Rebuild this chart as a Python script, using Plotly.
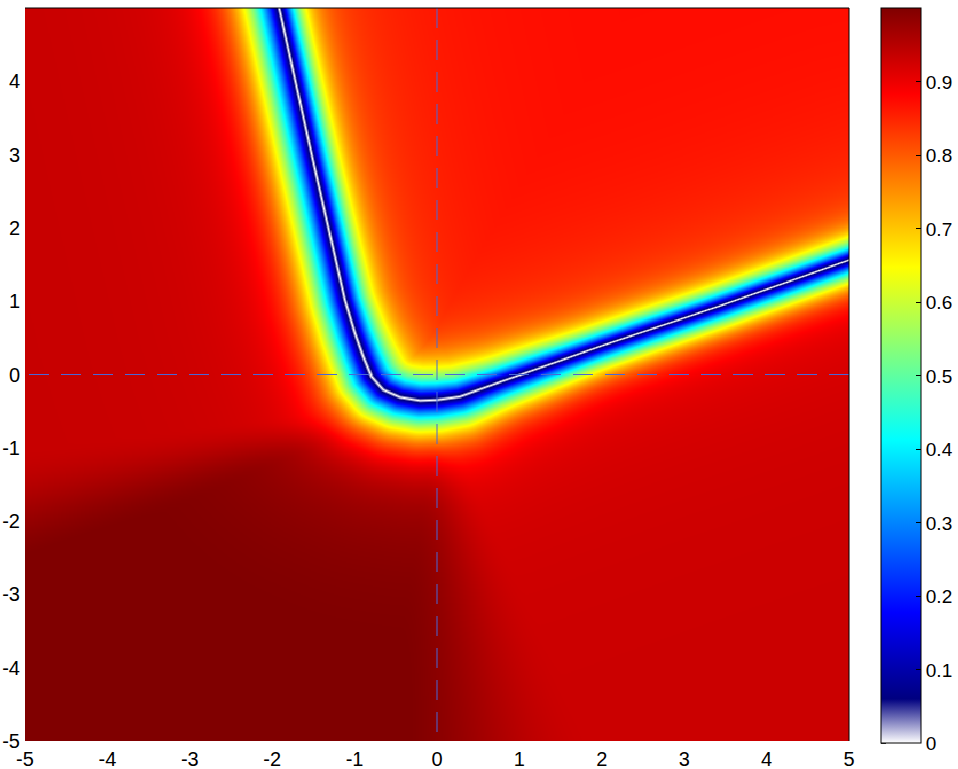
import numpy as np
import plotly.graph_objects as go

# Línea blanca (mínimo del campo)
curve_x = [-2.005, -1.915, -1.52, -1.117, -0.995, -0.894, -0.793, -0.651, -0.449,
           -0.206, 0.0, 0.279, 0.8, 2.0, 3.434, 5.0, 5.5]
curve_y = [5.45, 5.0, 3.0, 1.016, 0.562, 0.243, -0.03, -0.211, -0.311,
           -0.357, -0.348, -0.303, -0.09, 0.39, 0.934, 1.56, 1.755]

# Distancia desde la línea blanca hasta el borde amarillo (~0.65), lado exterior / interior
band_out = [0.42, 0.42, 0.42, 0.42, 0.42, 0.42, 0.43, 0.43, 0.43,
            0.43, 0.43, 0.41, 0.36, 0.31, 0.30, 0.30, 0.30]
band_in = [0.32, 0.32, 0.33, 0.35, 0.38, 0.41, 0.44, 0.46, 0.46,
           0.46, 0.45, 0.42, 0.36, 0.31, 0.30, 0.30, 0.30]

# Niveles de fondo lejos de la línea: interior (arriba-derecha) y exterior según el ángulo
level_inner = 0.873
level_center = (0.0, -0.3)
level_angle = [0, 30, 100, 188, 206, 262, 292, 360]
level_outer = [0.931, 0.931, 0.935, 0.935, 1.005, 1.005, 0.931, 0.931]
# Nivel junto a la línea (halo rojo / naranja)
near_outer = 0.885
near_inner = 0.78

cbar_ticks = [0, 0.1, 0.2, 0.3, 0.4, 0.5, 0.6, 0.7, 0.8, 0.9]
axis_ticks = [-5, -4, -3, -2, -1, 0, 1, 2, 3, 4, 5]


def smooth_interp(v, xp, fp):
    """Interpolación por tramos con transición suave (smoothstep)."""
    xp, fp = np.asarray(xp, float), np.asarray(fp, float)
    i = np.clip(np.searchsorted(xp, v) - 1, 0, len(xp) - 2)
    t = np.clip((v - xp[i]) / (xp[i + 1] - xp[i]), 0, 1)
    t = t * t * (3 - 2 * t)
    return fp[i] + (fp[i + 1] - fp[i]) * t


# Malla
xs = np.linspace(-5, 5, 720)
ys = np.linspace(-5, 5, 640)
X, Y = np.meshgrid(xs, ys)
px_, py_ = X.ravel(), Y.ravel()

cx = np.array(curve_x)
cy = np.array(curve_y)
dx, dy = np.diff(cx), np.diff(cy)
seg = np.hypot(dx, dy)
cum = np.concatenate([[0], np.cumsum(seg)])


def project(i):
    """Distancia de cada punto al tramo i y posición a lo largo de la curva."""
    rx, ry = px_ - cx[i], py_ - cy[i]
    t = np.clip((rx * dx[i] + ry * dy[i]) / seg[i] ** 2, 0, 1)
    ex, ey = rx - t * dx[i], ry - t * dy[i]
    cross = dx[i] * ry - dy[i] * rx
    return np.hypot(ex, ey), cum[i] + t * seg[i], cross


# distancia mínima y lado
dist = np.full(px_.size, np.inf)
sgn = np.zeros(px_.size)
for i in range(len(dx)):
    d, _, cross = project(i)
    m = d < dist
    dist[m] = d[m]
    sgn[m] = np.sign(cross[m])

# anchura de banda promediada suavemente entre los tramos más cercanos
num_o = np.zeros(px_.size)
num_i = np.zeros(px_.size)
den = np.zeros(px_.size)
for i in range(len(dx)):
    d, arc, _ = project(i)
    wt = np.exp(-(d - dist) / 0.15)
    num_o += wt * np.interp(arc, cum, band_out)
    num_i += wt * np.interp(arc, cum, band_in)
    den += wt

side = 1 / (1 + np.exp(-sgn * dist / 0.08))  # 1 = interior
w = (num_o / den) * (1 - side) + (num_i / den) * side

ang = np.degrees(np.arctan2(py_ - level_center[1], px_ - level_center[0])) % 360
far_out = smooth_interp(ang, level_angle, level_outer)
base_out = far_out - (far_out - near_outer) * np.exp(-dist / 1.0)
base_in = level_inner - (level_inner - near_inner) * np.exp(-dist / 0.9)
base = base_out * (1 - side) + base_in * side

# perfil: 0 sobre la línea, amarillo (0.6475) a la distancia w, saturando en el fondo
k = np.arctanh(0.6475 / base)
z = base * np.tanh(k * dist / w)
z = np.round(np.clip(z, 0, 1.0).reshape(X.shape), 4)

colorscale = [
    [0.0, "rgb(255,255,255)"],
    [0.06, "rgb(0,0,128)"],
    [0.1775, "rgb(0,0,255)"],
    [0.4125, "rgb(0,255,255)"],
    [0.6475, "rgb(255,255,0)"],
    [0.8825, "rgb(255,0,0)"],
    [1.0, "rgb(128,0,0)"],
]

family = "Liberation Sans, Arial, sans-serif"
axis_font = dict(family=family, size=20, color="black")
cbar_font = dict(family=family, size=19, color="black")

fig = go.Figure(go.Heatmap(
    x=xs, y=ys, z=z,
    zmin=0, zmax=1,
    colorscale=colorscale,
    hoverinfo="skip",
    colorbar=dict(
        x=1.0388, xanchor="left", xpad=0,
        y=0.4981, yanchor="middle", ypad=0,
        lenmode="pixels", len=735,
        thickness=40,
        outlinecolor="black", outlinewidth=1,
        tickvals=cbar_ticks,
        ticktext=[f"{v:g}" for v in cbar_ticks],
        ticks="inside", ticklen=5, tickcolor="black",
        tickfont=cbar_font,
    ),
))

# Ejes punteados en x=0 e y=0
dash_style = dict(color="rgb(72,104,216)", width=1, dash="20px,12px")
fig.add_shape(type="line", x0=0, x1=0, y0=5, y1=-5, line=dash_style)
fig.add_shape(type="line", x0=5, x1=-5, y0=0, y1=0, line=dash_style)

# Borde superior y derecho
frame = dict(color="black", width=1)
fig.add_shape(type="line", xref="paper", yref="paper", x0=0, x1=1, y0=1, y1=1, line=frame)
fig.add_shape(type="line", xref="paper", yref="paper", x0=1, x1=1, y0=0, y1=1, line=frame)

# Marcas del lado izquierdo de la barra de color
for v in cbar_ticks:
    yp = (741 - (743.3 - v * 734.8)) / 733
    fig.add_shape(type="line", xref="paper", yref="paper",
                  x0=1.0388, x1=1.0388 + 5 / 824, y0=yp, y1=yp, line=frame)

tick_text = [str(v) for v in axis_ticks]

fig.update_layout(
    width=958, height=769,
    margin=dict(l=25, r=109, t=8, b=28, autoexpand=False),
    paper_bgcolor="white",
    plot_bgcolor="white",
    font=axis_font,
    xaxis=dict(range=[-5, 5], tickvals=axis_ticks, ticktext=tick_text,
               showgrid=False, zeroline=False, ticks="", showline=False,
               automargin=False, ticklabelstandoff=4),
    yaxis=dict(range=[-5, 5], tickvals=axis_ticks, ticktext=tick_text,
               showgrid=False, zeroline=False, ticks="", showline=False,
               automargin=False, ticklabelstandoff=4),
)

# Quitar el margen del body para que la figura ocupe la ventana completa
fig.write_html("out.html", config={"displayModeBar": False},
               post_script="document.body.style.margin='0';document.body.style.overflow='hidden';")
